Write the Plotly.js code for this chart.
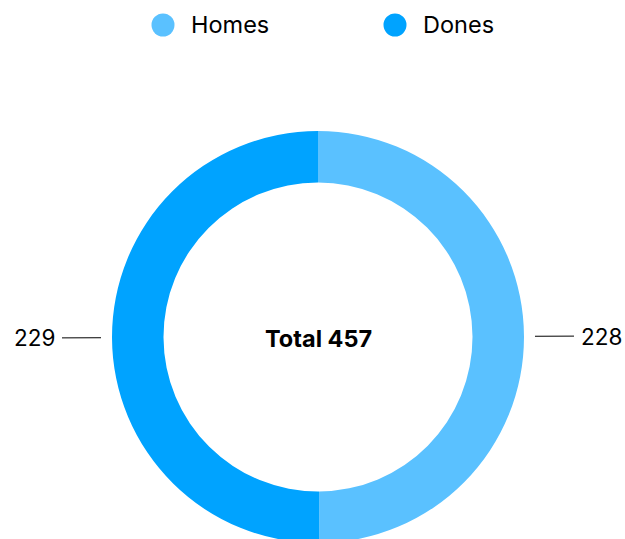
<!DOCTYPE html>
<html lang="en">
<head>
    <meta charset="UTF-8">
    <title>Homes vs Dones</title>
    <script src="https://cdn.plot.ly/plotly-3.0.1.min.js"></script>
    <style>
        body, html {
            margin: 0;
            padding: 0;
            overflow: hidden;
            background: white;
        }
        #chart {
            width: 625px;
            height: 560px;
        }
    </style>
</head>
<body>
    <div id="chart"></div>
    <script>
        // Data
        const categories = ['Homes', 'Dones'];
        const values = [228, 229];
        const colors = ['#5ac1ff', '#00a3ff'];

        // Geometry (pixels, from top-left of the page)
        const W = 625, H = 560;
        const cx = 318, cy = 337, R = 206;
        const FONT = 'Inter, "Liberation Sans", sans-serif';

        const px = x => x / W;
        const py = y => (H - y) / H;

        const total = values.reduce((a, b) => a + b, 0);

        const trace = {
            type: 'pie',
            labels: categories,
            values: values,
            hole: 0.75,
            sort: false,
            direction: 'clockwise',
            rotation: 0,
            textinfo: 'none',
            hoverinfo: 'label+value',
            showlegend: false,
            marker: {colors: colors, line: {width: 0}},
            domain: {
                x: [px(cx - R), px(cx + R)],
                y: [py(cy + R), py(cy - R)]
            }
        };

        const annotations = [];
        const shapes = [];

        // Value labels with leader lines at each slice's mid angle
        let cum = 0;
        values.forEach((v, i) => {
            const mid = (cum + v / 2) / total * 2 * Math.PI;
            cum += v;
            const dx = Math.sin(mid), dy = -Math.cos(mid);
            const tipX = cx + (R + 11) * dx;
            const tipY = cy + (R + 11) * dy;
            annotations.push({
                x: px(tipX), y: py(tipY),
                xref: 'paper', yref: 'paper',
                text: String(v),
                showarrow: true,
                arrowhead: 0,
                arrowwidth: 1,
                arrowcolor: '#000',
                ax: dx * 67,
                ay: dy * 67,
                borderpad: 7,
                font: {family: FONT, size: 22.5, color: '#000'}
            });
        });

        // Center total
        annotations.push({
            x: px(cx), y: py(cy + 1),
            xref: 'paper', yref: 'paper',
            text: '<b>Total ' + total + '</b>',
            showarrow: false,
            font: {family: FONT, size: 23.5, color: '#000'}
        });

        // Legend with round markers
        categories.forEach((c, i) => {
            const lx = 163 + i * 232, ly = 25, r = 11.5;
            shapes.push({
                type: 'circle',
                xref: 'paper', yref: 'paper',
                x0: px(lx - r), x1: px(lx + r),
                y0: py(ly + r), y1: py(ly - r),
                fillcolor: colors[i],
                line: {width: 0}
            });
            annotations.push({
                x: px(lx + 26), y: py(ly),
                xref: 'paper', yref: 'paper',
                xanchor: 'left', yanchor: 'middle',
                text: c,
                showarrow: false,
                font: {family: FONT, size: 23.5, color: '#000'}
            });
        });

        const layout = {
            width: W,
            height: H,
            margin: {t: 0, r: 0, b: 0, l: 0},
            paper_bgcolor: 'white',
            showlegend: false,
            annotations: annotations,
            shapes: shapes
        };

        Plotly.newPlot('chart', [trace], layout, {displayModeBar: false});
    </script>
</body>
</html>
